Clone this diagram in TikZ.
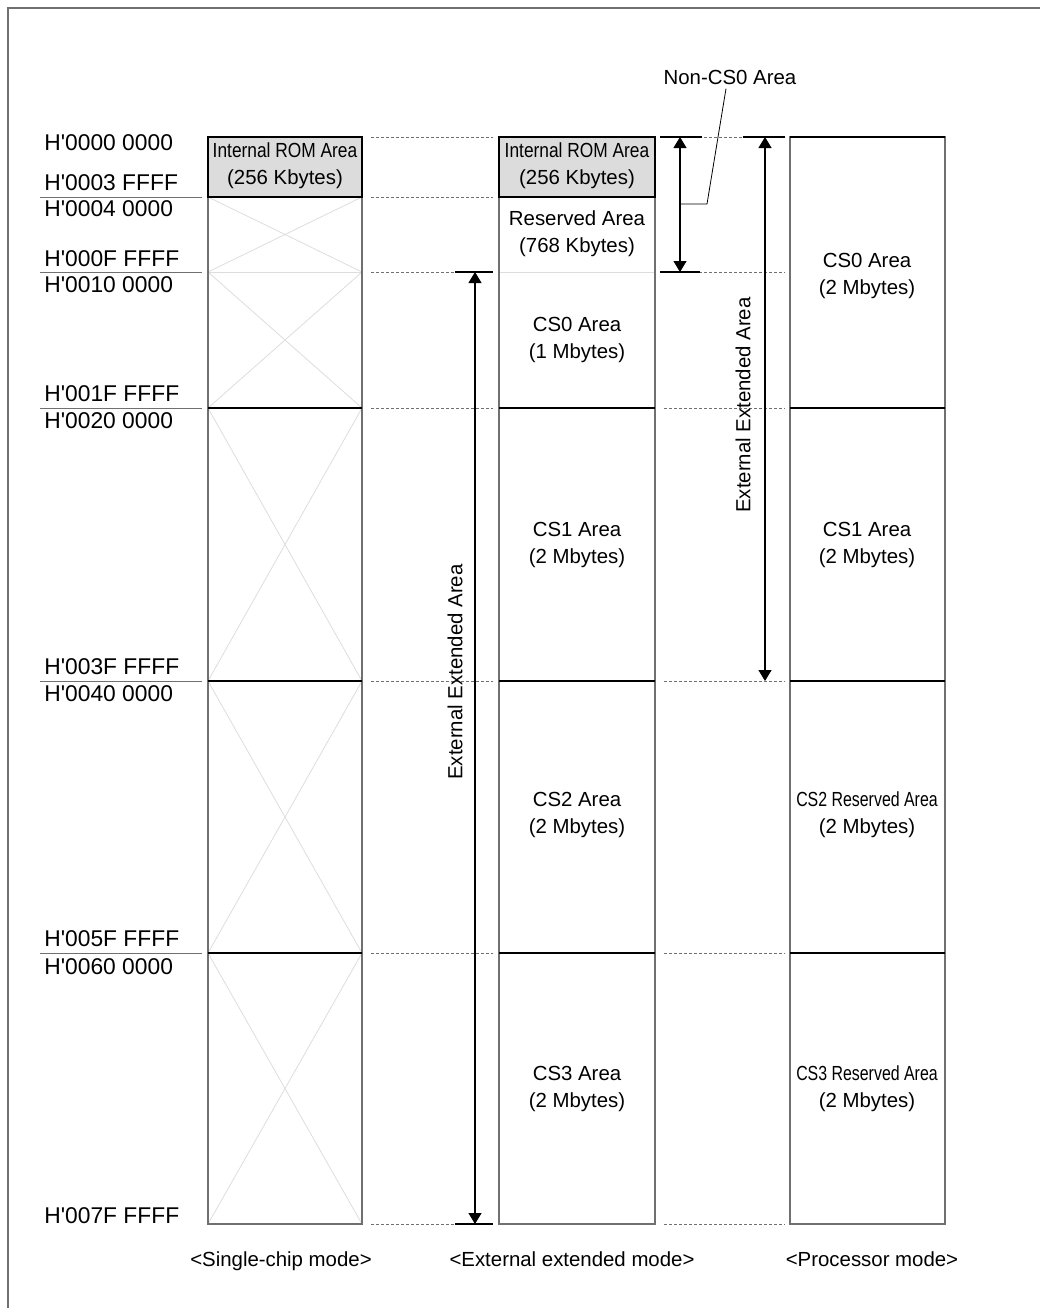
\documentclass[tikz,border=0pt]{standalone}
\usepackage{fontspec}
\setmainfont{Liberation Sans}
\usepackage{graphicx}
\usetikzlibrary{arrows.meta}
\definecolor{romgray}{HTML}{DCDCDC}
\definecolor{edgegray}{HTML}{707070}
\definecolor{crossgray}{HTML}{DDDDDD}
\newcommand{\hq}{H\textquotesingle}
\begin{document}
\begin{tikzpicture}[x=0.5pt,y=-0.5pt,>={Triangle[length=5.5pt,width=6.5pt]},
  lbl/.style={font=\fontsize{10.2}{13.5}\selectfont,align=center,inner sep=0pt},
  addr/.style={font=\fontsize{11.4}{13}\selectfont,anchor=west,inner sep=0pt},
  guide/.style={edgegray,dash pattern=on 1.5pt off 1pt,line width=0.4pt},
  divider/.style={black,line width=0.6pt},
  crossline/.style={crossgray,line width=0.4pt}]
\useasboundingbox (0,0) rectangle (1040,1308);
\draw[edgegray,line width=0.6pt] (8,1308) -- (8,8) -- (1040,8);
% guide lines between the columns
\foreach \y in {137,197,272,408,681,953,1224}{\draw[guide] (371,\y) -- (493,\y);}
\foreach \y in {137,272,408,681,953,1224}{\draw[guide] (664,\y) -- (785,\y);}
\foreach \y in {197,272,408,681,953}{\draw[edgegray,line width=0.4pt] (40,\y) -- (202,\y);}
% single-chip mode
\fill[romgray] (208,137) rectangle (362,197);
\foreach \ya/\yb in {197/272,272/408,408/681,681/953,953/1224}{\draw[crossline] (208,\ya) -- (362,\yb) (208,\yb) -- (362,\ya);}
\draw[crossline] (208,272) -- (362,272);
\draw[edgegray,line width=0.6pt] (208,137) rectangle (362,1224);
\draw[divider] (208,137) rectangle (362,197);
\foreach \y in {408,681,953}{\draw[divider] (208,\y) -- (362,\y);}
% external extended mode
\fill[romgray] (499,137) rectangle (655,197);
\draw[crossline] (499,272) -- (655,272);
\draw[edgegray,line width=0.6pt] (499,137) rectangle (655,1224);
\draw[divider] (499,137) rectangle (655,197);
\foreach \y in {408,681,953}{\draw[divider] (499,\y) -- (655,\y);}
% processor mode
\draw[edgegray,line width=0.6pt] (790,137) rectangle (945,1224);
\draw[divider] (790,137) -- (945,137);
\foreach \y in {408,681,953}{\draw[divider] (790,\y) -- (945,\y);}
% addresses
\foreach \n/\t/\y in {a0/0000 0000/143,a1/0003 FFFF/183,a2/0004 0000/209,a3/000F FFFF/259,a4/0010 0000/285,a5/001F FFFF/394,a6/0020 0000/421,a7/003F FFFF/667,a8/0040 0000/694,a9/005F FFFF/939,a10/0060 0000/967,a11/007F FFFF/1216}{\node[addr] (\n) at (44,\y) {\hq\t};}
% area labels
\node[lbl] (scrom) at (285,166) {\scalebox{0.85}[1]{Internal ROM Area}\\(256 Kbytes)};
\node[lbl] (eerom) at (577,166) {\scalebox{0.85}[1]{Internal ROM Area}\\(256 Kbytes)};
\node[lbl] (eeres) at (577,234) {Reserved Area\\(768 Kbytes)};
\node[lbl] (eecs0) at (577,340) {CS0 Area\\(1 Mbytes)};
\node[lbl] (eecs1) at (577,545) {CS1 Area\\(2 Mbytes)};
\node[lbl] (eecs2) at (577,815) {CS2 Area\\(2 Mbytes)};
\node[lbl] (eecs3) at (577,1089) {CS3 Area\\(2 Mbytes)};
\node[lbl] (pmcs0) at (867,276) {CS0 Area\\(2 Mbytes)};
\node[lbl] (pmcs1) at (867,545) {CS1 Area\\(2 Mbytes)};
\node[lbl] (pmcs2) at (867,815) {\scalebox{0.78}[1]{CS2 Reserved Area}\\(2 Mbytes)};
\node[lbl] (pmcs3) at (867,1089) {\scalebox{0.78}[1]{CS3 Reserved Area}\\(2 Mbytes)};
% extent arrows
\coordinate (exttop) at (475,272);
\coordinate (extbot) at (475,1224);
\coordinate (nctop) at (680,137);
\coordinate (ncbot) at (680,272);
\coordinate (nctap) at (680,204);
\coordinate (pmtop) at (765,137);
\coordinate (pmbot) at (765,681);
\draw[line width=0.6pt] (455,272) -- (493,272) (455,1224) -- (493,1224);
\draw[line width=0.6pt] (660,137) -- (702,137) (743,137) -- (785,137) (660,272) -- (700,272);
\draw[<->,line width=0.6pt] (exttop) -- (extbot);
\draw[<->,line width=0.6pt] (nctop) -- (ncbot);
\draw[<->,line width=0.6pt] (pmtop) -- (pmbot);
\node[lbl,rotate=90] (extlbl) at (455,672) {External Extended Area};
\node[lbl,rotate=90] (pmlbl) at (743,405) {External Extended Area};
\node[lbl] (ncs) at (730,77) {Non-CS0 Area};
\draw[line width=0.4pt] ([xshift=-2pt,yshift=-2pt]ncs.south) -- (707,204) -- (nctap);
% modes
\node[lbl,anchor=base] (scmode) at (281,1266) {<Single-chip mode>};
\node[lbl,anchor=base] (eemode) at (572,1266) {<External extended mode>};
\node[lbl,anchor=base] (pmmode) at (872,1266) {<Processor mode>};
\end{tikzpicture}
\end{document}
